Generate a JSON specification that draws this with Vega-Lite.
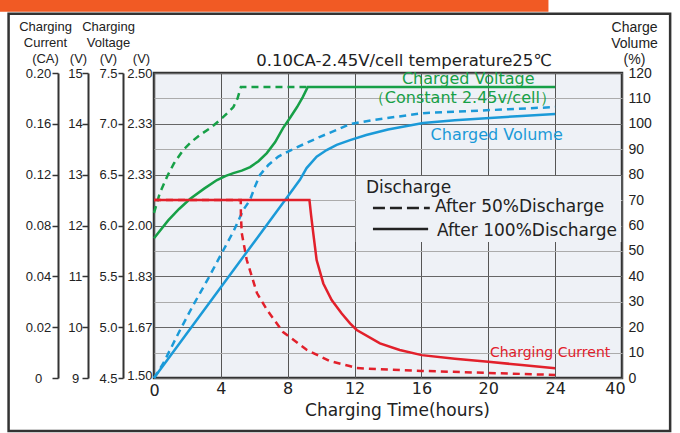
{
  "$schema": "https://vega.github.io/schema/vega-lite/v6.json",
  "width": 468,
  "height": 305,
  "autosize": {"type": "none"},
  "padding": {"left": 154, "top": 73, "right": 58, "bottom": 55},
  "background": "white",
  "config": {
    "view": {"fill": "#eef1f6", "stroke": "#333333", "strokeWidth": 2.5},
    "axis": {"labelColor": "#222222", "titleColor": "#222222", "titleFontWeight": "normal", "labelOverlap": false}
  },
  "datasets": {
    "curves": [
      {"series": "Charged Voltage", "discharge": "After 50% Discharge", "hour": 0, "level": 65},
      {"series": "Charged Voltage", "discharge": "After 50% Discharge", "hour": 0.35, "level": 72.8},
      {"series": "Charged Voltage", "discharge": "After 50% Discharge", "hour": 0.8, "level": 79.5},
      {"series": "Charged Voltage", "discharge": "After 50% Discharge", "hour": 1.2, "level": 84.5},
      {"series": "Charged Voltage", "discharge": "After 50% Discharge", "hour": 1.75, "level": 89.7},
      {"series": "Charged Voltage", "discharge": "After 50% Discharge", "hour": 2.25, "level": 93},
      {"series": "Charged Voltage", "discharge": "After 50% Discharge", "hour": 2.75, "level": 95.6},
      {"series": "Charged Voltage", "discharge": "After 50% Discharge", "hour": 3.4, "level": 98.5},
      {"series": "Charged Voltage", "discharge": "After 50% Discharge", "hour": 3.95, "level": 101.5},
      {"series": "Charged Voltage", "discharge": "After 50% Discharge", "hour": 4.4, "level": 104.3},
      {"series": "Charged Voltage", "discharge": "After 50% Discharge", "hour": 4.75, "level": 106.6},
      {"series": "Charged Voltage", "discharge": "After 50% Discharge", "hour": 5.0, "level": 110},
      {"series": "Charged Voltage", "discharge": "After 50% Discharge", "hour": 5.2, "level": 114.5},
      {"series": "Charged Voltage", "discharge": "After 50% Discharge", "hour": 9.2, "level": 114.5},

      {"series": "Charged Voltage", "discharge": "After 100% Discharge", "hour": 0, "level": 55},
      {"series": "Charged Voltage", "discharge": "After 100% Discharge", "hour": 0.85, "level": 62},
      {"series": "Charged Voltage", "discharge": "After 100% Discharge", "hour": 1.5, "level": 66.5},
      {"series": "Charged Voltage", "discharge": "After 100% Discharge", "hour": 2.15, "level": 70.4},
      {"series": "Charged Voltage", "discharge": "After 100% Discharge", "hour": 3.0, "level": 74.5},
      {"series": "Charged Voltage", "discharge": "After 100% Discharge", "hour": 3.77, "level": 77.9},
      {"series": "Charged Voltage", "discharge": "After 100% Discharge", "hour": 4.3, "level": 79.5},
      {"series": "Charged Voltage", "discharge": "After 100% Discharge", "hour": 4.75, "level": 80.6},
      {"series": "Charged Voltage", "discharge": "After 100% Discharge", "hour": 5.25, "level": 81.6},
      {"series": "Charged Voltage", "discharge": "After 100% Discharge", "hour": 5.75, "level": 83},
      {"series": "Charged Voltage", "discharge": "After 100% Discharge", "hour": 6.25, "level": 85.3},
      {"series": "Charged Voltage", "discharge": "After 100% Discharge", "hour": 6.75, "level": 88.5},
      {"series": "Charged Voltage", "discharge": "After 100% Discharge", "hour": 7.25, "level": 92.8},
      {"series": "Charged Voltage", "discharge": "After 100% Discharge", "hour": 7.72, "level": 98.3},
      {"series": "Charged Voltage", "discharge": "After 100% Discharge", "hour": 8.15, "level": 102.5},
      {"series": "Charged Voltage", "discharge": "After 100% Discharge", "hour": 8.56, "level": 106.6},
      {"series": "Charged Voltage", "discharge": "After 100% Discharge", "hour": 8.9, "level": 110.5},
      {"series": "Charged Voltage", "discharge": "After 100% Discharge", "hour": 9.2, "level": 114.5},
      {"series": "Charged Voltage", "discharge": "After 100% Discharge", "hour": 24, "level": 114.5},

      {"series": "Charged Volume", "discharge": "After 50% Discharge", "hour": 0, "level": 0},
      {"series": "Charged Volume", "discharge": "After 50% Discharge", "hour": 0.56, "level": 5.8},
      {"series": "Charged Volume", "discharge": "After 50% Discharge", "hour": 1.56, "level": 18.9},
      {"series": "Charged Volume", "discharge": "After 50% Discharge", "hour": 2.35, "level": 28.7},
      {"series": "Charged Volume", "discharge": "After 50% Discharge", "hour": 3.25, "level": 39.2},
      {"series": "Charged Volume", "discharge": "After 50% Discharge", "hour": 4.05, "level": 49.1},
      {"series": "Charged Volume", "discharge": "After 50% Discharge", "hour": 4.75, "level": 57.6},
      {"series": "Charged Volume", "discharge": "After 50% Discharge", "hour": 5.34, "level": 66.1},
      {"series": "Charged Volume", "discharge": "After 50% Discharge", "hour": 5.74, "level": 70},
      {"series": "Charged Volume", "discharge": "After 50% Discharge", "hour": 6.04, "level": 75.3},
      {"series": "Charged Volume", "discharge": "After 50% Discharge", "hour": 6.34, "level": 79.9},
      {"series": "Charged Volume", "discharge": "After 50% Discharge", "hour": 6.84, "level": 83.8},
      {"series": "Charged Volume", "discharge": "After 50% Discharge", "hour": 7.44, "level": 87.1},
      {"series": "Charged Volume", "discharge": "After 50% Discharge", "hour": 8.14, "level": 89.5},
      {"series": "Charged Volume", "discharge": "After 50% Discharge", "hour": 8.93, "level": 91.9},
      {"series": "Charged Volume", "discharge": "After 50% Discharge", "hour": 9.93, "level": 94.9},
      {"series": "Charged Volume", "discharge": "After 50% Discharge", "hour": 10.93, "level": 97.6},
      {"series": "Charged Volume", "discharge": "After 50% Discharge", "hour": 11.73, "level": 99.9},
      {"series": "Charged Volume", "discharge": "After 50% Discharge", "hour": 13.1, "level": 101.5},
      {"series": "Charged Volume", "discharge": "After 50% Discharge", "hour": 16.1, "level": 104.2},
      {"series": "Charged Volume", "discharge": "After 50% Discharge", "hour": 20.1, "level": 105.4},
      {"series": "Charged Volume", "discharge": "After 50% Discharge", "hour": 24, "level": 106.6},

      {"series": "Charged Volume", "discharge": "After 100% Discharge", "hour": 0, "level": 0},
      {"series": "Charged Volume", "discharge": "After 100% Discharge", "hour": 4, "level": 35.7},
      {"series": "Charged Volume", "discharge": "After 100% Discharge", "hour": 8, "level": 71.4},
      {"series": "Charged Volume", "discharge": "After 100% Discharge", "hour": 8.73, "level": 78},
      {"series": "Charged Volume", "discharge": "After 100% Discharge", "hour": 9.13, "level": 82.6},
      {"series": "Charged Volume", "discharge": "After 100% Discharge", "hour": 9.73, "level": 87.1},
      {"series": "Charged Volume", "discharge": "After 100% Discharge", "hour": 10.33, "level": 89.7},
      {"series": "Charged Volume", "discharge": "After 100% Discharge", "hour": 10.93, "level": 91.7},
      {"series": "Charged Volume", "discharge": "After 100% Discharge", "hour": 11.73, "level": 93.6},
      {"series": "Charged Volume", "discharge": "After 100% Discharge", "hour": 12.7, "level": 95.6},
      {"series": "Charged Volume", "discharge": "After 100% Discharge", "hour": 14, "level": 97.8},
      {"series": "Charged Volume", "discharge": "After 100% Discharge", "hour": 16.1, "level": 100.3},
      {"series": "Charged Volume", "discharge": "After 100% Discharge", "hour": 18, "level": 101.4},
      {"series": "Charged Volume", "discharge": "After 100% Discharge", "hour": 20.1, "level": 102.3},
      {"series": "Charged Volume", "discharge": "After 100% Discharge", "hour": 22, "level": 103.1},
      {"series": "Charged Volume", "discharge": "After 100% Discharge", "hour": 24, "level": 103.9},

      {"series": "Charging Current", "discharge": "After 50% Discharge", "hour": 0, "level": 70},
      {"series": "Charging Current", "discharge": "After 50% Discharge", "hour": 5.19, "level": 70},
      {"series": "Charging Current", "discharge": "After 50% Discharge", "hour": 5.2, "level": 64},
      {"series": "Charging Current", "discharge": "After 50% Discharge", "hour": 5.25, "level": 57},
      {"series": "Charging Current", "discharge": "After 50% Discharge", "hour": 5.55, "level": 46.4},
      {"series": "Charging Current", "discharge": "After 50% Discharge", "hour": 6.16, "level": 33.4},
      {"series": "Charging Current", "discharge": "After 50% Discharge", "hour": 6.76, "level": 26.8},
      {"series": "Charging Current", "discharge": "After 50% Discharge", "hour": 7.72, "level": 18.1},
      {"series": "Charging Current", "discharge": "After 50% Discharge", "hour": 9.15, "level": 11},
      {"series": "Charging Current", "discharge": "After 50% Discharge", "hour": 10.5, "level": 6.7},
      {"series": "Charging Current", "discharge": "After 50% Discharge", "hour": 11.7, "level": 4.7},
      {"series": "Charging Current", "discharge": "After 50% Discharge", "hour": 12.1, "level": 3.9},
      {"series": "Charging Current", "discharge": "After 50% Discharge", "hour": 14, "level": 3.3},
      {"series": "Charging Current", "discharge": "After 50% Discharge", "hour": 16, "level": 2.8},
      {"series": "Charging Current", "discharge": "After 50% Discharge", "hour": 20, "level": 2},
      {"series": "Charging Current", "discharge": "After 50% Discharge", "hour": 24, "level": 1.2},

      {"series": "Charging Current", "discharge": "After 100% Discharge", "hour": 0, "level": 70},
      {"series": "Charging Current", "discharge": "After 100% Discharge", "hour": 9.3, "level": 70},
      {"series": "Charging Current", "discharge": "After 100% Discharge", "hour": 9.4, "level": 64},
      {"series": "Charging Current", "discharge": "After 100% Discharge", "hour": 9.53, "level": 56.9},
      {"series": "Charging Current", "discharge": "After 100% Discharge", "hour": 9.73, "level": 46.4},
      {"series": "Charging Current", "discharge": "After 100% Discharge", "hour": 10.13, "level": 37.2},
      {"series": "Charging Current", "discharge": "After 100% Discharge", "hour": 10.63, "level": 30.7},
      {"series": "Charging Current", "discharge": "After 100% Discharge", "hour": 11.23, "level": 25.4},
      {"series": "Charging Current", "discharge": "After 100% Discharge", "hour": 11.73, "level": 21.5},
      {"series": "Charging Current", "discharge": "After 100% Discharge", "hour": 12.13, "level": 18.9},
      {"series": "Charging Current", "discharge": "After 100% Discharge", "hour": 13.52, "level": 13.6},
      {"series": "Charging Current", "discharge": "After 100% Discharge", "hour": 14.7, "level": 11},
      {"series": "Charging Current", "discharge": "After 100% Discharge", "hour": 16.02, "level": 9.0},
      {"series": "Charging Current", "discharge": "After 100% Discharge", "hour": 18, "level": 7.6},
      {"series": "Charging Current", "discharge": "After 100% Discharge", "hour": 20, "level": 6.4},
      {"series": "Charging Current", "discharge": "After 100% Discharge", "hour": 22, "level": 5.1},
      {"series": "Charging Current", "discharge": "After 100% Discharge", "hour": 24, "level": 3.8}
    ],
    "notes": [
      {"text": "Charged Voltage", "series": "Charged Voltage", "hour": 18.8, "level": 117.6},
      {"text": "（Constant 2.45v/cell）", "series": "Charged Voltage", "hour": 18.45, "level": 110.2},
      {"text": "Charged Volume", "series": "Charged Volume", "hour": 20.5, "level": 95.6}
    ],
    "currentNote": [
      {"text": "Charging Current", "series": "Charging Current", "hour": 23.7, "level": 9.8}
    ],
    "legendText": [
      {"text": "Discharge", "hour": 12.68, "level": 74.9},
      {"text": "After 50%Discharge", "hour": 16.81, "level": 67.1},
      {"text": "After 100%Discharge", "hour": 16.93, "level": 57.8}
    ],
    "titleText": [
      {"text": "0.10CA-2.45V/cell temperature25℃", "hour": 14.96, "level": 122.7}
    ]
  },
  "resolve": {"scale": {"y": "independent"}, "axis": {"y": "independent"}},
  "layer": [
    {
      "data": {"name": "curves"},
      "transform": [{"filter": "datum.discharge === 'After 50% Discharge'"}],
      "mark": {"type": "line", "strokeWidth": 2.5, "strokeDash": [7, 5]},
      "encoding": {
        "x": {
          "field": "hour", "type": "quantitative",
          "scale": {"domain": [0, 28], "nice": false},
          "axis": {
            "values": [0, 4, 8, 12, 16, 20, 24, 28],
            "labelExpr": "datum.value == 28 ? '40' : datum.label",
            "labelOffset": {"condition": {"test": "datum.value == 28", "value": -7}, "value": 0},
            "labelPadding": {"condition": {"test": "datum.value == 0", "value": 17}, "value": 15},
            "grid": true, "gridColor": "#555555", "gridWidth": 1,
            "domain": false, "ticks": false, "tickSize": 0,
            "labelFlush": false, "labelBaseline": "alphabetic",
            "labelFont": "DejaVu Sans", "labelFontSize": 16,
            "title": "Charging Time(hours)", "titleFont": "DejaVu Sans", "titleFontSize": 17,
            "titleBaseline": "alphabetic", "titleAlign": "center", "titleX": 243, "titleY": 37
          }
        },
        "y": {
          "field": "level", "type": "quantitative",
          "scale": {"domain": [0, 120], "nice": false},
          "axis": {
            "orient": "right",
            "values": [0, 10, 20, 30, 40, 50, 60, 70, 80, 90, 100, 110, 120],
            "grid": true,
            "gridColor": {"condition": {"test": "datum.value % 20 === 0", "value": "#666666"}, "value": "#ababab"},
            "domain": false, "ticks": false, "tickSize": 0, "labelPadding": 6,
            "labelFont": "Liberation Sans Narrow, Liberation Sans", "labelFontSize": 14,
            "title": ["Charge", "Volume", "(%)"], "titleAngle": 0, "titleAlign": "center",
            "titleBaseline": "alphabetic", "titleX": 12, "titleY": -42, "titleLineHeight": 16,
            "titleFont": "Liberation Sans", "titleFontSize": 14
          }
        },
        "color": {
          "field": "series", "type": "nominal",
          "scale": {"domain": ["Charged Voltage", "Charged Volume", "Charging Current"], "range": ["#17a047", "#1b9ad8", "#e2202b"]},
          "legend": null
        }
      }
    },
    {
      "data": {"values": [{}]},
      "mark": {"type": "rect", "fill": "#f15a24", "clip": false},
      "encoding": {
        "x": {"datum": -9.3, "type": "quantitative", "scale": {"domain": [0, 28], "nice": false}},
        "x2": {"datum": 23.6},
        "y": {"datum": 150, "type": "quantitative", "scale": {"domain": [0, 120], "nice": false}, "axis": null},
        "y2": {"datum": 144.1}
      }
    },
    {
      "data": {"values": [{}]},
      "mark": {"type": "rect", "filled": false, "stroke": "#333333", "strokeWidth": 2.5, "clip": false},
      "encoding": {
        "x": {"datum": -8.7, "type": "quantitative", "scale": {"domain": [0, 28], "nice": false}},
        "x2": {"datum": 30.88},
        "y": {"datum": 143.3, "type": "quantitative", "scale": {"domain": [0, 120], "nice": false}, "axis": null},
        "y2": {"datum": -20.9}
      }
    },
    {
      "data": {"values": [{}]},
      "mark": {"type": "rect", "fill": "#eef1f6"},
      "encoding": {
        "x": {"datum": 12.07, "type": "quantitative", "scale": {"domain": [0, 28], "nice": false}},
        "x2": {"datum": 27.95},
        "y": {"datum": 79.5, "type": "quantitative", "scale": {"domain": [0, 120], "nice": false}, "axis": null},
        "y2": {"datum": 53.5}
      }
    },
    {
      "data": {"name": "curves"},
      "transform": [{"filter": "datum.discharge === 'After 100% Discharge'"}],
      "mark": {"type": "line", "strokeWidth": 2.5},
      "encoding": {
        "x": {"field": "hour", "type": "quantitative", "scale": {"domain": [0, 28], "nice": false}},
        "y": {"field": "level", "type": "quantitative", "scale": {"domain": [0, 120], "nice": false}, "axis": null},
        "color": {"field": "series", "type": "nominal", "legend": null}
      }
    },
    {
      "data": {"values": [{}]},
      "mark": {"type": "rule", "color": "#222222", "strokeWidth": 2.5, "strokeDash": [12, 5]},
      "encoding": {
        "x": {"datum": 13.1, "type": "quantitative", "scale": {"domain": [0, 28], "nice": false}},
        "x2": {"datum": 16.5},
        "y": {"datum": 66.9, "type": "quantitative", "scale": {"domain": [0, 120], "nice": false}, "axis": null}
      }
    },
    {
      "data": {"values": [{}]},
      "mark": {"type": "rule", "color": "#222222", "strokeWidth": 2.5},
      "encoding": {
        "x": {"datum": 13.1, "type": "quantitative", "scale": {"domain": [0, 28], "nice": false}},
        "x2": {"datum": 16.4},
        "y": {"datum": 58.6, "type": "quantitative", "scale": {"domain": [0, 120], "nice": false}, "axis": null}
      }
    },
    {
      "data": {"name": "notes"},
      "mark": {"type": "text", "font": "DejaVu Sans", "fontSize": 16, "align": "center", "baseline": "middle"},
      "encoding": {
        "x": {"field": "hour", "type": "quantitative", "scale": {"domain": [0, 28], "nice": false}},
        "y": {"field": "level", "type": "quantitative", "scale": {"domain": [0, 120], "nice": false}, "axis": null},
        "text": {"field": "text"},
        "color": {"field": "series", "type": "nominal", "legend": null}
      }
    },
    {
      "data": {"name": "currentNote"},
      "mark": {"type": "text", "font": "DejaVu Sans", "fontSize": 14, "align": "center", "baseline": "middle"},
      "encoding": {
        "x": {"field": "hour", "type": "quantitative", "scale": {"domain": [0, 28], "nice": false}},
        "y": {"field": "level", "type": "quantitative", "scale": {"domain": [0, 120], "nice": false}, "axis": null},
        "text": {"field": "text"},
        "color": {"field": "series", "type": "nominal", "legend": null}
      }
    },
    {
      "data": {"name": "legendText"},
      "mark": {"type": "text", "font": "DejaVu Sans", "fontSize": 17, "align": "left", "baseline": "middle", "color": "#222222"},
      "encoding": {
        "x": {"field": "hour", "type": "quantitative", "scale": {"domain": [0, 28], "nice": false}},
        "y": {"field": "level", "type": "quantitative", "scale": {"domain": [0, 120], "nice": false}, "axis": null},
        "text": {"field": "text"}
      }
    },
    {
      "data": {"name": "titleText"},
      "mark": {"type": "text", "font": "DejaVu Sans", "fontSize": 16.5, "align": "center", "baseline": "alphabetic", "color": "#222222", "clip": false},
      "encoding": {
        "x": {"field": "hour", "type": "quantitative", "scale": {"domain": [0, 28], "nice": false}},
        "y": {"field": "level", "type": "quantitative", "scale": {"domain": [0, 120], "nice": false}, "axis": null},
        "text": {"field": "text"}
      }
    },
    {
      "data": {"values": [{}]},
      "mark": {"type": "rule", "strokeOpacity": 0},
      "encoding": {
        "y": {
          "datum": 0, "type": "quantitative",
          "scale": {"domain": [0, 120], "nice": false},
          "axis": {
            "orient": "left", "offset": 96,
            "values": [0, 20, 40, 60, 80, 100, 120],
            "labelExpr": "['0','0.02','0.04','0.08','0.12','0.16','0.20'][datum.value/20]",
            "grid": false, "domain": true, "domainColor": "#333333", "domainWidth": 2,
            "ticks": true, "tickSize": 6, "tickColor": "#333333", "tickWidth": 1.5,
            "labelAlign": "center", "labelPadding": 14,
            "labelFont": "Liberation Sans", "labelFontSize": 13,
            "title": ["Charging", "Current", "(CA)"], "titleAngle": 0, "titleAlign": "center",
            "titleBaseline": "alphabetic", "titleX": -13, "titleY": -43, "titleLineHeight": 16,
            "titleFont": "Liberation Sans", "titleFontSize": 13
          }
        }
      }
    },
    {
      "data": {"values": [{}]},
      "mark": {"type": "rule", "strokeOpacity": 0},
      "encoding": {
        "y": {
          "datum": 0, "type": "quantitative",
          "scale": {"domain": [0, 120], "nice": false},
          "axis": {
            "orient": "left", "offset": 66,
            "values": [0, 20, 40, 60, 80, 100, 120],
            "labelExpr": "['9','10','11','12','13','14','15'][datum.value/20]",
            "grid": false, "domain": true, "domainColor": "#333333", "domainWidth": 2,
            "ticks": true, "tickSize": 6, "tickColor": "#333333", "tickWidth": 1.5,
            "labelAlign": "center", "labelPadding": 7,
            "labelFont": "Liberation Sans", "labelFontSize": 13,
            "title": "(V)", "titleAngle": 0, "titleAlign": "center",
            "titleBaseline": "alphabetic", "titleX": -10, "titleY": -11,
            "titleFont": "Liberation Sans", "titleFontSize": 13
          }
        }
      }
    },
    {
      "data": {"values": [{}]},
      "mark": {"type": "rule", "strokeOpacity": 0},
      "encoding": {
        "y": {
          "datum": 0, "type": "quantitative",
          "scale": {"domain": [0, 120], "nice": false},
          "axis": {
            "orient": "left", "offset": 31,
            "values": [0, 20, 40, 60, 80, 100, 120],
            "labelExpr": "['4.5','5.0','5.5','6.0','6.5','7.0','7.5'][datum.value/20]",
            "grid": false, "domain": true, "domainColor": "#333333", "domainWidth": 2,
            "ticks": true, "tickSize": 5, "tickColor": "#333333", "tickWidth": 1.5,
            "labelAlign": "right", "labelPadding": 1,
            "labelFont": "Liberation Sans", "labelFontSize": 13,
            "title": ["Charging", "Voltage", "(V)"], "titleAngle": 0, "titleAlign": "center",
            "titleBaseline": "alphabetic", "titleX": -15, "titleY": -43, "titleLineHeight": 16,
            "titleFont": "Liberation Sans", "titleFontSize": 13
          }
        }
      }
    },
    {
      "data": {"values": [{}]},
      "mark": {"type": "rule", "strokeOpacity": 0},
      "encoding": {
        "y": {
          "datum": 0, "type": "quantitative",
          "scale": {"domain": [0, 120], "nice": false},
          "axis": {
            "orient": "left", "offset": 0,
            "values": [0, 20, 40, 60, 80, 100, 120],
            "labelExpr": "['1.50','1.67','1.83','2.00','2.33','2.33','2.50'][datum.value/20]",
            "labelOffset": {"condition": {"test": "datum.value == 0", "value": -3}, "value": 0},
            "grid": false, "domain": false, "ticks": false, "tickSize": 0,
            "labelAlign": "right", "labelPadding": 2,
            "labelFont": "Liberation Sans", "labelFontSize": 13,
            "title": "(V)", "titleAngle": 0, "titleAlign": "center",
            "titleBaseline": "alphabetic", "titleX": -13, "titleY": -11,
            "titleFont": "Liberation Sans", "titleFontSize": 13
          }
        }
      }
    }
  ]
}
